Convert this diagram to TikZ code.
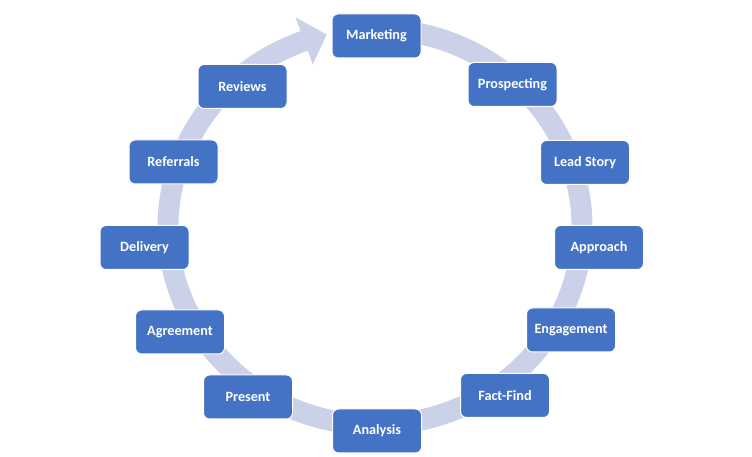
\documentclass[tikz,border=0pt]{standalone}
\usepackage{fontspec}
\setmainfont{Carlito}
\definecolor{boxblue}{HTML}{4472C4}
\definecolor{ringblue}{HTML}{CAD1E8}
\tikzset{stagebox/.style={rectangle,rounded corners=6pt,draw=white,line width=1pt,
    fill=boxblue,text=white,minimum width=89pt,minimum height=44pt,inner sep=0pt,
    font=\fontsize{14.2}{17}\selectfont\bfseries}}
\begin{document}
\begin{tikzpicture}[x=1pt,y=1pt]
        \useasboundingbox (0,0) rectangle (752,457);
        \coordinate (c) at (375,230);

        % ring with arrow head
        \fill[ringblue] ([shift={(90:217.5 and 208.5)}]c)
          arc[start angle=90,end angle=-250,x radius=217.5,y radius=208.5]
          -- ([shift={(-250:232 and 223)}]c)
          -- ([shift={(-256.5:207 and 198)}]c)
          -- ([shift={(-250:182 and 173)}]c)
          -- ([shift={(-250:196.5 and 187.5)}]c)
          arc[start angle=-250,end angle=90,x radius=196.5,y radius=187.5]
          -- cycle;

        \begin{scope}[every node/.style={stagebox}]
          \node (1)  at (376.5,421)   {Marketing};
          \node (2)  at (512.5,372.5) {Prospecting};
          \node (3)  at (585,294.5)   {Lead Story};
          \node (4)  at (599,209.5)   {Approach};
          \node (5)  at (571,127)     {Engagement};
          \node (6)  at (505,61.5)    {Fact-Find};
          \node (7)  at (377,26)      {Analysis};
          \node (8)  at (248,60)      {Present};
          \node (9)  at (180,125)     {Agreement};
          \node (10) at (144.5,209.5) {Delivery};
          \node (11) at (173.5,295)   {Referrals};
          \node (12) at (242.5,370.5) {Reviews};
        \end{scope}

\end{tikzpicture}
\end{document}
